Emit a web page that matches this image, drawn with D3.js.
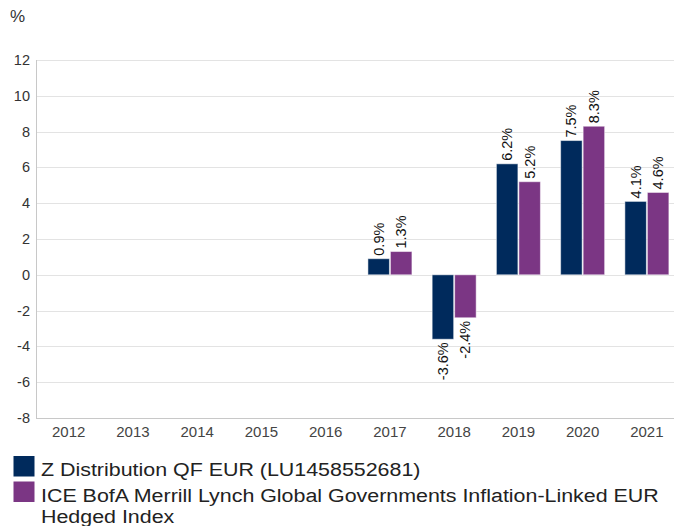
<!DOCTYPE html>
<html><head><meta charset="utf-8">
<script src="https://cdn.jsdelivr.net/npm/d3@7"></script>
<style>
body{margin:0;background:#fff;}
text{font-family:"Liberation Sans",Arial,sans-serif;}
</style></head>
<body><svg id="c" width="674" height="526"></svg>
<script>
const years = ["2012","2013","2014","2015","2016","2017","2018","2019","2020","2021"];
const fundValues = [null,null,null,null,null,0.9,-3.6,6.2,7.5,4.1];
const indexValues = [null,null,null,null,null,1.3,-2.4,5.2,8.3,4.6];
const yTicks = [-8,-6,-4,-2,0,2,4,6,8,10,12];
const seriesNames = ["Z Distribution QF EUR (LU1458552681)","ICE BofA Merrill Lynch Global Governments Inflation-Linked EUR Hedged Index"];
const legendLines = [["Z Distribution QF EUR (LU1458552681)"],["ICE BofA Merrill Lynch Global Governments Inflation-Linked EUR","Hedged Index"]];
const colors = ["#002a5c","#7b3684"];

const svg = d3.select("#c");
const x = d3.scaleBand().domain(years).range([36.6,679]);
const y = d3.scaleLinear().domain([-8,12]).range([418,60]);
const barW = 21.5;

// gridlines
svg.append("g").selectAll("line").data(yTicks).join("line")
  .attr("x1",36).attr("x2",674).attr("y1",d=>Math.round(y(d))+0.5).attr("y2",d=>Math.round(y(d))+0.5)
  .attr("stroke",d=>d===-8?"#c8c8c8":"#e3e3e3").attr("stroke-width",1);
svg.append("line").attr("x1",36.5).attr("x2",36.5).attr("y1",y(12)).attr("y2",y(-8)+0.5).attr("stroke","#c8c8c8");

// y tick labels
svg.append("g").selectAll("text").data(yTicks).join("text")
  .attr("x",30).attr("y",d=>y(d)+5).attr("text-anchor","end")
  .attr("font-size",14.5).attr("fill","#333").text(d=>d);
svg.append("text").attr("x",10).attr("y",22).attr("font-size",17).attr("fill","#333").text("%");

// x labels
svg.append("g").selectAll("text").data(years).join("text")
  .attr("x",d=>x(d)+x.bandwidth()/2).attr("y",437).attr("text-anchor","middle")
  .attr("font-size",15).attr("fill","#444").text(d=>d);

const series = [fundValues, indexValues];
series.forEach((vals,si)=>{
  const data = years.map((yr,i)=>({yr,v:vals[i]})).filter(d=>d.v!==null);
  const g = svg.append("g");
  g.selectAll("rect").data(data).join("rect")
    .attr("x",d=>x(d.yr)+x.bandwidth()/2 + (si===0?-barW-0.5:0.5))
    .attr("width",barW)
    .attr("y",d=>y(Math.max(0,d.v)))
    .attr("height",d=>Math.abs(y(d.v)-y(0)))
    .attr("fill",colors[si]).attr("stroke","#ffffff").attr("stroke-opacity",0.5).attr("stroke-width",1);
  g.selectAll("text").data(data).join("text")
    .attr("transform",d=>{
      const cx = x(d.yr)+x.bandwidth()/2 + (si===0?-barW/2-0.5:barW/2+0.5) + 5;
      const cy = d.v>=0 ? y(d.v)-3 : y(d.v)+3;
      return `translate(${cx},${cy}) rotate(-90)`;
    })
    .attr("text-anchor",d=>d.v>=0?"start":"end")
    .attr("font-size",14.5).attr("fill","#111")
    .text(d=>d.v.toFixed(1)+"%");
});

// legend
const leg = svg.append("g");
legendLines.forEach((lines,i)=>{
  const top = 456 + i*25.5;
  leg.append("rect").attr("x",13.5).attr("y",top).attr("width",21).attr("height",20.5).attr("fill",colors[i]);
  lines.forEach((ln,j)=>{
    leg.append("text").attr("transform",`translate(41,${top+20 + j*21}) scale(1.19,1)`)
      .attr("font-size",18).attr("fill","#222").text(ln);
  });
});
</script></body></html>
